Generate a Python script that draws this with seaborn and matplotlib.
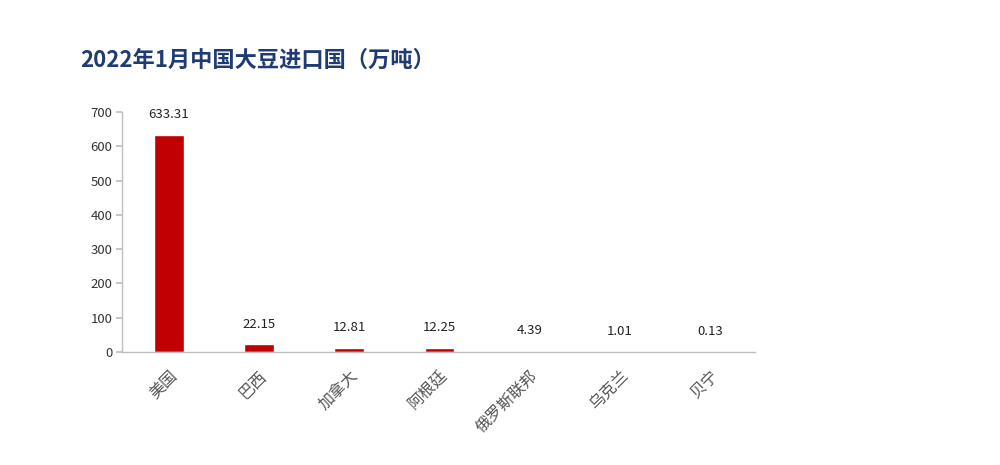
import pandas as pd
import seaborn as sns
from matplotlib import pyplot as plt

countries = ['美国', '巴西', '加拿大', '阿根廷', '俄罗斯联邦', '乌克兰', '贝宁']
imports = [633.31, 22.15, 12.81, 12.25, 4.39, 1.01, 0.13]
y_ticks = [0, 100, 200, 300, 400, 500, 600, 700]

df = pd.DataFrame({'country': countries, 'imports': imports})

sns.set_theme(style='white')
plt.rcParams['font.family'] = ['Noto Sans CJK SC', 'DejaVu Sans']

fig = plt.figure(figsize=(10, 4.65), dpi=100)
ax = fig.add_axes([0.122, 0.243, 0.633, 0.516])

sns.barplot(data=df, x='country', y='imports', color='#C00000', width=0.33,
            saturation=1, ax=ax)

for container in ax.containers:
    ax.bar_label(container, labels=[f'{v:.2f}' for v in imports],
                 padding=10, fontsize=9.5, color='#222222')

ax.set_ylim(0, 700)
ax.set_yticks(y_ticks)
ax.set_xlim(-0.52, 6.5)
ax.set_xlabel('')
ax.set_ylabel('')

for side in ['top', 'right']:
    ax.spines[side].set_visible(False)
for side in ['left', 'bottom']:
    ax.spines[side].set_color('#BFBFBF')
    ax.spines[side].set_linewidth(1)

ax.tick_params(axis='y', which='major', left=True, length=4, color='#BFBFBF',
               labelsize=9.5, labelcolor='#333333', pad=3)
ax.tick_params(axis='x', bottom=False, labelsize=11.5, labelcolor='#555555', pad=5)
plt.setp(ax.get_xticklabels(), rotation=45, ha='right', rotation_mode='anchor')

fig.text(0.08, 0.87, '2022年1月中国大豆进口国（万吨）', fontsize=16,
         fontweight='bold', color='#1F3B73', ha='left', va='center')

fig.savefig('out.png', dpi=100, facecolor='white')
